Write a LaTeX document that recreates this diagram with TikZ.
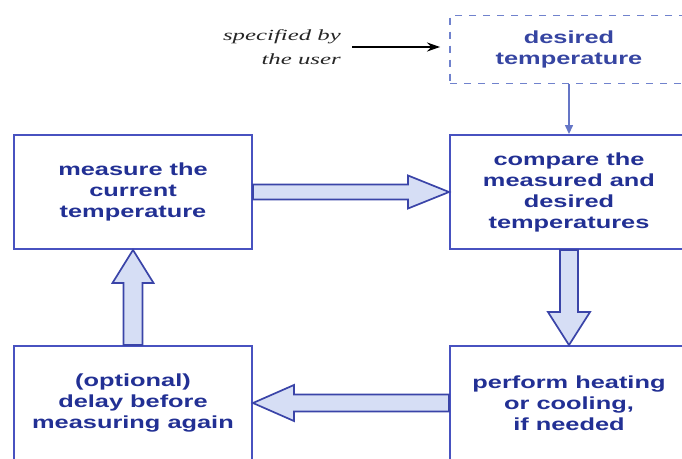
\documentclass[tikz,border=0pt]{standalone}
\usepackage{fontspec}
\usepackage{tikz}
\usetikzlibrary{arrows.meta, calc}
\newfontfamily\boxfont[FakeStretch=1.45]{Liberation Sans}
\newfontfamily\userfont[FakeStretch=1.6]{Liberation Serif}
\definecolor{boxblue}{RGB}{72,82,192}
\definecolor{textblue}{RGB}{34,48,148}
\definecolor{fillblue}{RGB}{214,222,245}
\definecolor{arrowblue}{RGB}{58,68,168}
\definecolor{dashblue}{RGB}{112,130,205}

\begin{document}
\begin{tikzpicture}[
    x=1pt, y=-1pt,
    >={Stealth[length=13pt, width=9pt]},
    stage/.style={draw=boxblue, line width=1.9pt, fill=white, minimum width=238pt, minimum height=114pt,
        inner sep=0pt, align=center, text=textblue, font=\boxfont\bfseries\fontsize{17.5}{21}\selectfont},
    given/.style={stage, draw=dashblue, dash pattern=on 7pt off 7pt, minimum height=68pt, text=textblue!75!dashblue},
    fatarrow/.style={draw=arrowblue, line width=1.7pt, fill=fillblue, line join=miter},
    % hollow block arrow: head length, head half width, shaft half width
    fat/.style n args={3}{to path={
        ($(\tikztostart)!#3!90:(\tikztotarget)$)
        -- ($($(\tikztotarget)!#1!(\tikztostart)$)!#3!90:(\tikztotarget)$)
        -- ($($(\tikztotarget)!#1!(\tikztostart)$)!#2!90:(\tikztotarget)$)
        -- (\tikztotarget)
        -- ($($(\tikztotarget)!#1!(\tikztostart)$)!#2!-90:(\tikztotarget)$)
        -- ($($(\tikztotarget)!#1!(\tikztostart)$)!#3!-90:(\tikztotarget)$)
        -- ($(\tikztostart)!#3!-90:(\tikztotarget)$) -- cycle}},
]

% --- Page frame (boxes on the right and bottom run off the edge) ---
\clip (0,0) rectangle (682,458);

% --- Loop of four stages ---
\node[stage] (measure) at (133,192) {measure the\\current\\temperature};
\node[stage] (compare) at (569,192) {compare the\\measured and\\desired\\temperatures};
\node[stage] (perform) at (569,403) {perform heating\\or cooling,\\if needed};
\node[stage] (delay)   at (133,403) {(optional)\\delay before\\measuring again};

% --- Set point given by the user ---
\node[given] (desired) at (569,49.5) {desired\\temperature};
\node[anchor=east, align=right, inner sep=0pt, text=black!85,
      font=\userfont\itshape\fontsize{15.5}{24}\selectfont] (user) at (341,47) {specified by\\the user};
\draw[->, line width=1.6pt, shorten <=11pt, shorten >=9pt] (user.east) -- (user.east -| desired.west);
\draw[-{Triangle[length=9pt, width=8pt]}, draw=dashblue!80!arrowblue, line width=1.4pt] (desired.south) -- (compare.north);

% --- Block arrows between the stages ---
\draw[fatarrow] (measure.east)  to[fat={41pt}{16.5pt}{7.5pt}] (compare.west);
\draw[fatarrow] (compare.south) to[fat={33pt}{21pt}{9pt}]     (perform.north);
\draw[fatarrow] (perform.west)  to[fat={41pt}{18pt}{8.5pt}]   (delay.east);
\draw[fatarrow] (delay.north)   to[fat={33pt}{20.5pt}{9.5pt}] (measure.south);

\end{tikzpicture}
\end{document}
